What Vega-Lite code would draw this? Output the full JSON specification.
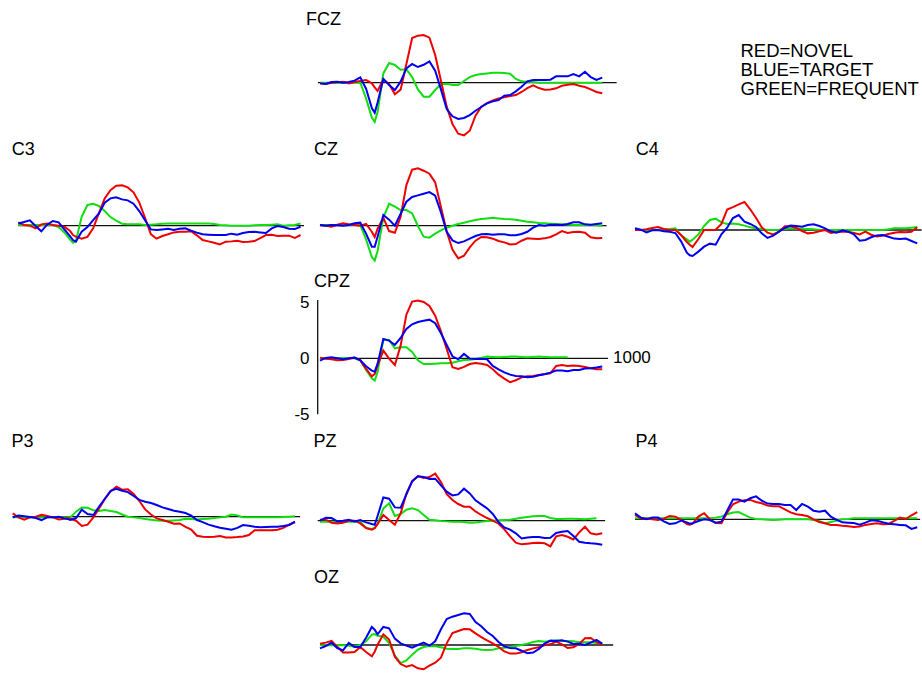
{
"$schema": "https://vega.github.io/schema/vega-lite/v6.json",
"padding": 0,
"background": "white",
"config": {"view": {"stroke": null}, "font": "Liberation Sans"},
"columns": 3,
"spacing": 0,
"bounds": "flush",
"resolve": {"scale": {"color": "independent", "x": "independent", "y": "independent"}, "legend": {"color": "independent"}, "axis": {"x": "independent", "y": "independent"}},
"datasets": {
"erp": [
{"p":"FCZ","t":0,"n":-0.06,"b":-0.06,"g":0},
{"p":"FCZ","t":20,"n":-0.12,"b":-0.12,"g":0},
{"p":"FCZ","t":40,"n":0,"b":0.06,"g":0},
{"p":"FCZ","t":60,"n":0.03,"b":0.09,"g":0},
{"p":"FCZ","t":80,"n":0.09,"b":0,"g":0},
{"p":"FCZ","t":100,"n":-0.06,"b":0.06,"g":0},
{"p":"FCZ","t":120,"n":0.06,"b":0.18,"g":0},
{"p":"FCZ","t":140,"n":0.15,"b":0.48,"g":0},
{"p":"FCZ","t":160,"n":0.24,"b":-0.54,"g":-1.4},
{"p":"FCZ","t":180,"n":-0.06,"b":-2.26,"g":-3.12},
{"p":"FCZ","t":190,"n":-0.42,"b":-2.68,"g":-3.51},
{"p":"FCZ","t":200,"n":-0.74,"b":-1.76,"g":-2.62},
{"p":"FCZ","t":220,"n":0.3,"b":0.33,"g":0.83},
{"p":"FCZ","t":240,"n":-0.12,"b":-0.21,"g":1.76},
{"p":"FCZ","t":260,"n":-1.04,"b":-0.65,"g":1.58},
{"p":"FCZ","t":280,"n":-0.62,"b":0.09,"g":1.16},
{"p":"FCZ","t":300,"n":1.67,"b":1.28,"g":1.19},
{"p":"FCZ","t":320,"n":3.99,"b":1.67,"g":0.5},
{"p":"FCZ","t":340,"n":4.2,"b":1.4,"g":-0.6},
{"p":"FCZ","t":360,"n":4.26,"b":1.6,"g":-1.25},
{"p":"FCZ","t":380,"n":4.02,"b":1.9,"g":-1.25},
{"p":"FCZ","t":400,"n":2.47,"b":1.07,"g":-0.65},
{"p":"FCZ","t":420,"n":0.18,"b":-0.6,"g":-0.12},
{"p":"FCZ","t":440,"n":-2.14,"b":-2.35,"g":-0.09},
{"p":"FCZ","t":460,"n":-3.7,"b":-3.0,"g":-0.21},
{"p":"FCZ","t":480,"n":-4.55,"b":-3.24,"g":-0.21},
{"p":"FCZ","t":500,"n":-4.7,"b":-3.15,"g":0.15},
{"p":"FCZ","t":520,"n":-4.29,"b":-2.89,"g":0.5},
{"p":"FCZ","t":540,"n":-2.95,"b":-2.5,"g":0.68},
{"p":"FCZ","t":560,"n":-2.14,"b":-2.17,"g":0.77},
{"p":"FCZ","t":580,"n":-1.82,"b":-1.85,"g":0.83},
{"p":"FCZ","t":600,"n":-1.58,"b":-1.67,"g":0.89},
{"p":"FCZ","t":620,"n":-1.4,"b":-1.55,"g":0.89},
{"p":"FCZ","t":640,"n":-1.31,"b":-1.16,"g":0.86},
{"p":"FCZ","t":660,"n":-1.19,"b":-1.1,"g":0.8},
{"p":"FCZ","t":680,"n":-1.1,"b":-0.77,"g":0.33},
{"p":"FCZ","t":700,"n":-0.83,"b":-0.36,"g":0.12},
{"p":"FCZ","t":720,"n":-0.48,"b":0.12,"g":0.09},
{"p":"FCZ","t":740,"n":-0.24,"b":0.24,"g":0.06},
{"p":"FCZ","t":760,"n":-0.48,"b":0.24,"g":0},
{"p":"FCZ","t":780,"n":-0.62,"b":0.24,"g":0},
{"p":"FCZ","t":800,"n":-0.6,"b":0.27,"g":0},
{"p":"FCZ","t":820,"n":-0.5,"b":0.57,"g":0},
{"p":"FCZ","t":840,"n":-0.27,"b":0.57,"g":0},
{"p":"FCZ","t":860,"n":-0.18,"b":0.57,"g":0},
{"p":"FCZ","t":880,"n":-0.12,"b":0.77,"g":0},
{"p":"FCZ","t":900,"n":-0.27,"b":0.57,"g":0},
{"p":"FCZ","t":920,"n":-0.39,"b":0.98,"g":0},
{"p":"FCZ","t":940,"n":-0.6,"b":0.5,"g":0},
{"p":"FCZ","t":960,"n":-0.83,"b":0.24,"g":0},
{"p":"FCZ","t":980,"n":-0.95,"b":0.45,"g":0},
{"p":"C3","t":0,"n":0.3,"b":0.2,"g":0.06},
{"p":"C3","t":20,"n":0.06,"b":0.33,"g":0.06},
{"p":"C3","t":40,"n":0,"b":0.48,"g":0.06},
{"p":"C3","t":60,"n":-0.24,"b":-0.03,"g":0.06},
{"p":"C3","t":80,"n":0.12,"b":-0.5,"g":0.06},
{"p":"C3","t":100,"n":0.2,"b":0.09,"g":0.06},
{"p":"C3","t":120,"n":0.06,"b":0.42,"g":0.06},
{"p":"C3","t":140,"n":0,"b":0.3,"g":-0.12},
{"p":"C3","t":160,"n":-0.09,"b":-0.33,"g":-0.6},
{"p":"C3","t":180,"n":-0.48,"b":-0.95,"g":-1.25},
{"p":"C3","t":190,"n":-0.83,"b":-1.28,"g":-1.52},
{"p":"C3","t":200,"n":-0.98,"b":-1.43,"g":-1.37},
{"p":"C3","t":220,"n":-1.16,"b":-0.54,"g":0.8},
{"p":"C3","t":240,"n":-1.0,"b":-0.12,"g":1.85},
{"p":"C3","t":260,"n":-0.24,"b":0.5,"g":1.96},
{"p":"C3","t":280,"n":1.13,"b":1.1,"g":1.76},
{"p":"C3","t":300,"n":2.44,"b":2.05,"g":1.31},
{"p":"C3","t":320,"n":3.18,"b":2.44,"g":0.77},
{"p":"C3","t":340,"n":3.57,"b":2.53,"g":0.45},
{"p":"C3","t":360,"n":3.6,"b":2.35,"g":0.18},
{"p":"C3","t":380,"n":3.42,"b":2.26,"g":0.12},
{"p":"C3","t":400,"n":2.98,"b":1.96,"g":0.12},
{"p":"C3","t":420,"n":2.08,"b":1.31,"g":0.12},
{"p":"C3","t":440,"n":0.71,"b":0.48,"g":0.06},
{"p":"C3","t":460,"n":-0.75,"b":-0.33,"g":0.09},
{"p":"C3","t":480,"n":-1.16,"b":-0.39,"g":0.12},
{"p":"C3","t":500,"n":-0.92,"b":-0.33,"g":0.18},
{"p":"C3","t":520,"n":-0.77,"b":-0.27,"g":0.2},
{"p":"C3","t":540,"n":-0.6,"b":-0.39,"g":0.2},
{"p":"C3","t":560,"n":-0.54,"b":-0.27,"g":0.2},
{"p":"C3","t":580,"n":-0.54,"b":-0.24,"g":0.2},
{"p":"C3","t":600,"n":-0.5,"b":-0.45,"g":0.2},
{"p":"C3","t":620,"n":-0.86,"b":-0.62,"g":0.2},
{"p":"C3","t":640,"n":-1.28,"b":-0.77,"g":0.2},
{"p":"C3","t":660,"n":-1.4,"b":-0.8,"g":0.2},
{"p":"C3","t":680,"n":-1.52,"b":-0.83,"g":0.15},
{"p":"C3","t":700,"n":-1.67,"b":-0.83,"g":0.06},
{"p":"C3","t":720,"n":-1.43,"b":-0.83,"g":0.03},
{"p":"C3","t":740,"n":-1.4,"b":-0.71,"g":0},
{"p":"C3","t":760,"n":-1.34,"b":-0.8,"g":0},
{"p":"C3","t":780,"n":-1.46,"b":-0.65,"g":0},
{"p":"C3","t":800,"n":-1.43,"b":-0.56,"g":0},
{"p":"C3","t":820,"n":-1.37,"b":-0.54,"g":0.03},
{"p":"C3","t":840,"n":-1.1,"b":-0.6,"g":0.06},
{"p":"C3","t":860,"n":-0.83,"b":-0.65,"g":0.06},
{"p":"C3","t":880,"n":-0.8,"b":-0.24,"g":0.09},
{"p":"C3","t":900,"n":-0.92,"b":-0.03,"g":0.12},
{"p":"C3","t":920,"n":-0.89,"b":-0.12,"g":0},
{"p":"C3","t":940,"n":-0.89,"b":-0.27,"g":0.03},
{"p":"C3","t":960,"n":-1.1,"b":-0.3,"g":0.06},
{"p":"C3","t":980,"n":-0.83,"b":-0.09,"g":0.2},
{"p":"CZ","t":0,"n":0.06,"b":0.06,"g":0.06},
{"p":"CZ","t":20,"n":0,"b":0,"g":0.06},
{"p":"CZ","t":40,"n":-0.09,"b":0.06,"g":0.06},
{"p":"CZ","t":60,"n":0.09,"b":0.03,"g":0.06},
{"p":"CZ","t":80,"n":0.21,"b":0,"g":0.06},
{"p":"CZ","t":100,"n":0.12,"b":0.06,"g":0.06},
{"p":"CZ","t":120,"n":0.06,"b":0.21,"g":0.06},
{"p":"CZ","t":140,"n":0,"b":0.27,"g":0.06},
{"p":"CZ","t":160,"n":0.15,"b":-0.71,"g":-1.22},
{"p":"CZ","t":180,"n":-0.54,"b":-1.88,"g":-2.8},
{"p":"CZ","t":190,"n":-1.01,"b":-1.88,"g":-3.12},
{"p":"CZ","t":200,"n":-0.27,"b":-0.98,"g":-2.26},
{"p":"CZ","t":220,"n":0.71,"b":0.95,"g":0.74},
{"p":"CZ","t":240,"n":-0.48,"b":0.54,"g":1.96},
{"p":"CZ","t":260,"n":-0.63,"b":0,"g":1.7},
{"p":"CZ","t":280,"n":0.8,"b":1.07,"g":1.4},
{"p":"CZ","t":300,"n":3.63,"b":2.14,"g":1.4},
{"p":"CZ","t":320,"n":5.0,"b":2.56,"g":1.1},
{"p":"CZ","t":340,"n":5.12,"b":2.71,"g":-0.03},
{"p":"CZ","t":360,"n":4.91,"b":2.86,"g":-0.98},
{"p":"CZ","t":380,"n":4.64,"b":3.0,"g":-1.07},
{"p":"CZ","t":400,"n":3.87,"b":2.68,"g":-0.71},
{"p":"CZ","t":420,"n":1.67,"b":1.19,"g":-0.42},
{"p":"CZ","t":440,"n":-0.54,"b":-0.54,"g":-0.18},
{"p":"CZ","t":460,"n":-2.14,"b":-1.31,"g":0},
{"p":"CZ","t":480,"n":-2.92,"b":-1.55,"g":0.15},
{"p":"CZ","t":500,"n":-2.68,"b":-1.4,"g":0.27},
{"p":"CZ","t":520,"n":-1.93,"b":-1.16,"g":0.39},
{"p":"CZ","t":540,"n":-1.34,"b":-0.92,"g":0.51},
{"p":"CZ","t":560,"n":-1.01,"b":-0.77,"g":0.6},
{"p":"CZ","t":580,"n":-1.04,"b":-0.74,"g":0.65},
{"p":"CZ","t":600,"n":-1.16,"b":-0.8,"g":0.71},
{"p":"CZ","t":620,"n":-1.37,"b":-0.77,"g":0.65},
{"p":"CZ","t":640,"n":-1.49,"b":-0.77,"g":0.6},
{"p":"CZ","t":660,"n":-1.67,"b":-0.86,"g":0.57},
{"p":"CZ","t":680,"n":-1.64,"b":-0.86,"g":0.54},
{"p":"CZ","t":700,"n":-1.34,"b":-0.74,"g":0.45},
{"p":"CZ","t":720,"n":-1.13,"b":-0.54,"g":0.36},
{"p":"CZ","t":740,"n":-1.16,"b":-0.18,"g":0.3},
{"p":"CZ","t":760,"n":-1.19,"b":0.06,"g":0.24},
{"p":"CZ","t":780,"n":-1.13,"b":0,"g":0.21},
{"p":"CZ","t":800,"n":-1.01,"b":0.09,"g":0.18},
{"p":"CZ","t":820,"n":-0.77,"b":0.09,"g":0.15},
{"p":"CZ","t":840,"n":-0.48,"b":0.06,"g":0.12},
{"p":"CZ","t":860,"n":-0.65,"b":0.15,"g":0.09},
{"p":"CZ","t":880,"n":-0.57,"b":0.3,"g":0.06},
{"p":"CZ","t":900,"n":-0.54,"b":0.3,"g":0.06},
{"p":"CZ","t":920,"n":-0.63,"b":0.12,"g":0.06},
{"p":"CZ","t":940,"n":-1.04,"b":0.09,"g":0.06},
{"p":"CZ","t":960,"n":-1.13,"b":0.15,"g":0.03},
{"p":"CZ","t":980,"n":-1.1,"b":0.21,"g":0},
{"p":"C4","t":0,"n":0,"b":0.15,"g":0},
{"p":"C4","t":20,"n":0,"b":0.03,"g":0},
{"p":"C4","t":40,"n":0.06,"b":-0.21,"g":0},
{"p":"C4","t":60,"n":0.18,"b":-0.03,"g":0},
{"p":"C4","t":80,"n":0.27,"b":0,"g":0},
{"p":"C4","t":100,"n":0.09,"b":-0.12,"g":0.06},
{"p":"C4","t":120,"n":0,"b":-0.15,"g":0.09},
{"p":"C4","t":140,"n":0,"b":-0.27,"g":0.15},
{"p":"C4","t":160,"n":-0.45,"b":-1.01,"g":-0.48},
{"p":"C4","t":180,"n":-1.07,"b":-2.02,"g":-0.83},
{"p":"C4","t":190,"n":-1.31,"b":-2.26,"g":-1.04},
{"p":"C4","t":200,"n":-1.52,"b":-2.32,"g":-0.86},
{"p":"C4","t":220,"n":-0.8,"b":-1.93,"g":-0.39},
{"p":"C4","t":240,"n":0,"b":-1.49,"g":0.36},
{"p":"C4","t":260,"n":0,"b":-1.22,"g":0.89},
{"p":"C4","t":280,"n":0.03,"b":-1.31,"g":1.01},
{"p":"C4","t":300,"n":0.54,"b":-0.39,"g":0.68},
{"p":"C4","t":320,"n":1.82,"b":0.21,"g":0.54},
{"p":"C4","t":340,"n":2.05,"b":1.07,"g":0.57},
{"p":"C4","t":360,"n":2.29,"b":1.34,"g":0.51},
{"p":"C4","t":380,"n":2.5,"b":0.74,"g":0.39},
{"p":"C4","t":400,"n":1.85,"b":0.54,"g":0.24},
{"p":"C4","t":420,"n":1.1,"b":0.27,"g":0.15},
{"p":"C4","t":440,"n":0.24,"b":-0.3,"g":0.09},
{"p":"C4","t":460,"n":-0.24,"b":-0.71,"g":0},
{"p":"C4","t":480,"n":-0.39,"b":-0.51,"g":0},
{"p":"C4","t":500,"n":-0.15,"b":-0.15,"g":0.03},
{"p":"C4","t":520,"n":0.33,"b":0.18,"g":0.09},
{"p":"C4","t":540,"n":0.33,"b":0.39,"g":0.15},
{"p":"C4","t":560,"n":0.18,"b":0.36,"g":0.12},
{"p":"C4","t":580,"n":-0.09,"b":0.3,"g":0.12},
{"p":"C4","t":600,"n":-0.3,"b":0.45,"g":0.09},
{"p":"C4","t":620,"n":-0.24,"b":0.51,"g":0.06},
{"p":"C4","t":640,"n":-0.12,"b":0.36,"g":0},
{"p":"C4","t":660,"n":0,"b":0.15,"g":0},
{"p":"C4","t":680,"n":-0.27,"b":-0.12,"g":0},
{"p":"C4","t":700,"n":-0.18,"b":-0.24,"g":0},
{"p":"C4","t":720,"n":-0.15,"b":-0.03,"g":0},
{"p":"C4","t":740,"n":-0.15,"b":-0.15,"g":0},
{"p":"C4","t":760,"n":-0.27,"b":-0.39,"g":0},
{"p":"C4","t":780,"n":-0.39,"b":-0.95,"g":0},
{"p":"C4","t":800,"n":-0.15,"b":-0.89,"g":0},
{"p":"C4","t":820,"n":-0.42,"b":-0.65,"g":0},
{"p":"C4","t":840,"n":-0.57,"b":-0.48,"g":0},
{"p":"C4","t":860,"n":-0.5,"b":-0.45,"g":0},
{"p":"C4","t":880,"n":-0.36,"b":-0.6,"g":0.06},
{"p":"C4","t":900,"n":-0.24,"b":-0.77,"g":0.15},
{"p":"C4","t":920,"n":-0.18,"b":-0.8,"g":0.15},
{"p":"C4","t":940,"n":-0.21,"b":-0.77,"g":0.15},
{"p":"C4","t":960,"n":-0.15,"b":-0.98,"g":0.21},
{"p":"C4","t":980,"n":0.24,"b":-1.19,"g":0.27},
{"p":"CPZ","t":0,"n":0.06,"b":-0.21,"g":0},
{"p":"CPZ","t":20,"n":-0.03,"b":0.03,"g":0},
{"p":"CPZ","t":40,"n":-0.09,"b":0.09,"g":0},
{"p":"CPZ","t":60,"n":-0.18,"b":0,"g":0},
{"p":"CPZ","t":80,"n":-0.15,"b":-0.09,"g":0},
{"p":"CPZ","t":100,"n":-0.06,"b":0,"g":0},
{"p":"CPZ","t":120,"n":0.06,"b":0.06,"g":0},
{"p":"CPZ","t":140,"n":-0.18,"b":-0.18,"g":-0.18},
{"p":"CPZ","t":160,"n":-0.95,"b":-0.71,"g":-1.04},
{"p":"CPZ","t":180,"n":-1.61,"b":-1.1,"g":-1.79},
{"p":"CPZ","t":190,"n":-1.4,"b":-1.19,"g":-1.99},
{"p":"CPZ","t":200,"n":-0.63,"b":-0.48,"g":-1.22},
{"p":"CPZ","t":220,"n":0.68,"b":1.73,"g":1.67},
{"p":"CPZ","t":240,"n":-0.03,"b":1.58,"g":1.64},
{"p":"CPZ","t":260,"n":-0.6,"b":1.19,"g":0.89},
{"p":"CPZ","t":280,"n":1.13,"b":1.82,"g":0.98},
{"p":"CPZ","t":300,"n":3.9,"b":2.62,"g":0.98},
{"p":"CPZ","t":320,"n":5.06,"b":3.04,"g":0.57},
{"p":"CPZ","t":340,"n":5.15,"b":3.24,"g":-0.18},
{"p":"CPZ","t":360,"n":5.03,"b":3.36,"g":-0.51},
{"p":"CPZ","t":380,"n":4.67,"b":3.45,"g":-0.51},
{"p":"CPZ","t":400,"n":3.81,"b":3.13,"g":-0.48},
{"p":"CPZ","t":420,"n":2.41,"b":2.23,"g":-0.45},
{"p":"CPZ","t":440,"n":0.83,"b":1.19,"g":-0.45},
{"p":"CPZ","t":460,"n":-0.8,"b":0.18,"g":-0.39},
{"p":"CPZ","t":480,"n":-0.95,"b":-0.09,"g":-0.27},
{"p":"CPZ","t":500,"n":-0.77,"b":0.39,"g":-0.15},
{"p":"CPZ","t":520,"n":-0.51,"b":-0.03,"g":-0.12},
{"p":"CPZ","t":540,"n":-0.42,"b":-0.06,"g":-0.06},
{"p":"CPZ","t":560,"n":-0.48,"b":-0.03,"g":0.03},
{"p":"CPZ","t":580,"n":-0.6,"b":-0.09,"g":0.15},
{"p":"CPZ","t":600,"n":-0.98,"b":-0.68,"g":0.12},
{"p":"CPZ","t":620,"n":-1.46,"b":-0.98,"g":0.09},
{"p":"CPZ","t":640,"n":-1.82,"b":-1.25,"g":0.12},
{"p":"CPZ","t":660,"n":-2.14,"b":-1.46,"g":0.15},
{"p":"CPZ","t":680,"n":-1.96,"b":-1.58,"g":0.15},
{"p":"CPZ","t":700,"n":-1.7,"b":-1.61,"g":0.12},
{"p":"CPZ","t":720,"n":-1.61,"b":-1.7,"g":0.09},
{"p":"CPZ","t":740,"n":-1.58,"b":-1.64,"g":0.12},
{"p":"CPZ","t":760,"n":-1.49,"b":-1.52,"g":0.15},
{"p":"CPZ","t":780,"n":-1.4,"b":-1.43,"g":0.12},
{"p":"CPZ","t":800,"n":-1.34,"b":-1.28,"g":0.09},
{"p":"CPZ","t":820,"n":-0.68,"b":-1.1,"g":0.09},
{"p":"CPZ","t":840,"n":-0.6,"b":-1.1,"g":0.09},
{"p":"CPZ","t":860,"n":-0.68,"b":-1.16,"g":0.09},
{"p":"CPZ","t":880,"n":-0.65,"b":-1.04,"g":null},
{"p":"CPZ","t":900,"n":-0.68,"b":-1.04,"g":null},
{"p":"CPZ","t":920,"n":-0.77,"b":-0.92,"g":null},
{"p":"CPZ","t":940,"n":-0.89,"b":-0.89,"g":null},
{"p":"CPZ","t":960,"n":-0.98,"b":-0.83,"g":null},
{"p":"CPZ","t":980,"n":-0.98,"b":-0.74,"g":null},
{"p":"P3","t":0,"n":0.3,"b":-0.06,"g":-0.06},
{"p":"P3","t":20,"n":-0.06,"b":0.1,"g":-0.06},
{"p":"P3","t":40,"n":-0.27,"b":0.03,"g":-0.06},
{"p":"P3","t":60,"n":-0.06,"b":-0.03,"g":-0.06},
{"p":"P3","t":80,"n":0,"b":-0.12,"g":-0.06},
{"p":"P3","t":100,"n":0.18,"b":-0.3,"g":-0.06},
{"p":"P3","t":120,"n":0.06,"b":-0.06,"g":-0.06},
{"p":"P3","t":140,"n":-0.06,"b":-0.06,"g":-0.06},
{"p":"P3","t":160,"n":-0.24,"b":0,"g":-0.06},
{"p":"P3","t":180,"n":-0.18,"b":-0.15,"g":-0.06},
{"p":"P3","t":190,"n":-0.15,"b":-0.2,"g":-0.06},
{"p":"P3","t":200,"n":-0.18,"b":-0.3,"g":-0.06},
{"p":"P3","t":220,"n":-0.36,"b":-0.12,"g":0.45},
{"p":"P3","t":240,"n":-0.83,"b":0.63,"g":0.83},
{"p":"P3","t":260,"n":-0.71,"b":0.24,"g":0.8},
{"p":"P3","t":280,"n":-0.06,"b":0.15,"g":0.57},
{"p":"P3","t":300,"n":0.74,"b":0.9,"g":0.5},
{"p":"P3","t":320,"n":1.58,"b":1.6,"g":0.6},
{"p":"P3","t":340,"n":2.26,"b":2.3,"g":0.5},
{"p":"P3","t":360,"n":2.68,"b":2.5,"g":0.42},
{"p":"P3","t":380,"n":2.41,"b":2.32,"g":0.2},
{"p":"P3","t":400,"n":2.44,"b":2.2,"g":0},
{"p":"P3","t":420,"n":2.02,"b":1.85,"g":-0.06},
{"p":"P3","t":440,"n":1.4,"b":1.5,"g":-0.12},
{"p":"P3","t":460,"n":0.65,"b":1.34,"g":-0.2},
{"p":"P3","t":480,"n":0.2,"b":1.22,"g":-0.27},
{"p":"P3","t":500,"n":-0.15,"b":1.04,"g":-0.33},
{"p":"P3","t":520,"n":-0.3,"b":0.83,"g":-0.36},
{"p":"P3","t":540,"n":-0.45,"b":0.68,"g":-0.36},
{"p":"P3","t":560,"n":-0.63,"b":0.54,"g":-0.33},
{"p":"P3","t":580,"n":-0.6,"b":0.45,"g":-0.3},
{"p":"P3","t":600,"n":-0.9,"b":0.33,"g":-0.18},
{"p":"P3","t":620,"n":-1.16,"b":0.09,"g":-0.2},
{"p":"P3","t":640,"n":-1.7,"b":-0.3,"g":-0.24},
{"p":"P3","t":660,"n":-1.8,"b":-0.48,"g":-0.2},
{"p":"P3","t":680,"n":-1.82,"b":-0.71,"g":-0.18},
{"p":"P3","t":700,"n":-1.8,"b":-0.86,"g":-0.12},
{"p":"P3","t":720,"n":-1.73,"b":-0.98,"g":-0.06},
{"p":"P3","t":740,"n":-1.85,"b":-1.07,"g":0},
{"p":"P3","t":760,"n":-1.85,"b":-1.16,"g":0.2},
{"p":"P3","t":780,"n":-1.82,"b":-1.0,"g":0.12},
{"p":"P3","t":800,"n":-1.76,"b":-0.74,"g":-0.06},
{"p":"P3","t":820,"n":-1.64,"b":-0.8,"g":-0.06},
{"p":"P3","t":840,"n":-1.2,"b":-0.89,"g":-0.06},
{"p":"P3","t":860,"n":-1.2,"b":-0.95,"g":-0.06},
{"p":"P3","t":880,"n":-1.2,"b":-0.92,"g":-0.06},
{"p":"P3","t":900,"n":-1.2,"b":-0.89,"g":-0.06},
{"p":"P3","t":920,"n":-1.16,"b":-0.89,"g":-0.06},
{"p":"P3","t":940,"n":-1.0,"b":-0.83,"g":-0.03},
{"p":"P3","t":960,"n":-0.7,"b":-0.74,"g":0},
{"p":"P3","t":980,"n":-0.5,"b":-0.45,"g":0.03},
{"p":"PZ","t":0,"n":0.09,"b":0,"g":-0.09},
{"p":"PZ","t":20,"n":0.09,"b":0.27,"g":-0.09},
{"p":"PZ","t":40,"n":-0.18,"b":0.24,"g":-0.09},
{"p":"PZ","t":60,"n":-0.24,"b":-0.06,"g":-0.09},
{"p":"PZ","t":80,"n":-0.18,"b":0,"g":-0.09},
{"p":"PZ","t":100,"n":0,"b":0.09,"g":-0.09},
{"p":"PZ","t":120,"n":0,"b":-0.06,"g":-0.09},
{"p":"PZ","t":140,"n":-0.24,"b":0.06,"g":-0.09},
{"p":"PZ","t":160,"n":-0.65,"b":-0.15,"g":-0.65},
{"p":"PZ","t":180,"n":-0.8,"b":-0.3,"g":-0.74},
{"p":"PZ","t":190,"n":-0.68,"b":-0.36,"g":-0.63},
{"p":"PZ","t":200,"n":-0.3,"b":0.42,"g":-0.3},
{"p":"PZ","t":220,"n":0.51,"b":2.08,"g":1.1},
{"p":"PZ","t":240,"n":0.06,"b":1.96,"g":1.55},
{"p":"PZ","t":260,"n":-0.36,"b":1.19,"g":0.42},
{"p":"PZ","t":280,"n":0.65,"b":1.16,"g":0.6},
{"p":"PZ","t":300,"n":2.41,"b":2.35,"g":0.98},
{"p":"PZ","t":320,"n":3.54,"b":3.51,"g":1.1},
{"p":"PZ","t":340,"n":3.99,"b":3.96,"g":0.95},
{"p":"PZ","t":360,"n":3.81,"b":3.9,"g":0.51},
{"p":"PZ","t":380,"n":3.9,"b":3.72,"g":0.09},
{"p":"PZ","t":400,"n":4.2,"b":3.75,"g":0.03},
{"p":"PZ","t":420,"n":3.45,"b":3.15,"g":-0.03},
{"p":"PZ","t":440,"n":2.38,"b":2.59,"g":-0.06},
{"p":"PZ","t":460,"n":1.85,"b":2.26,"g":-0.09},
{"p":"PZ","t":480,"n":1.49,"b":2.35,"g":-0.09},
{"p":"PZ","t":500,"n":1.25,"b":2.86,"g":-0.12},
{"p":"PZ","t":520,"n":1.25,"b":2.44,"g":-0.18},
{"p":"PZ","t":540,"n":0.83,"b":1.82,"g":-0.15},
{"p":"PZ","t":560,"n":0.51,"b":1.46,"g":-0.09},
{"p":"PZ","t":580,"n":0.24,"b":1.1,"g":-0.03},
{"p":"PZ","t":600,"n":0,"b":0.6,"g":0},
{"p":"PZ","t":620,"n":-0.27,"b":-0.12,"g":0.03},
{"p":"PZ","t":640,"n":-0.77,"b":-0.6,"g":0.06},
{"p":"PZ","t":660,"n":-1.4,"b":-0.8,"g":0.09},
{"p":"PZ","t":680,"n":-1.96,"b":-1.13,"g":0.18},
{"p":"PZ","t":700,"n":-2.11,"b":-1.58,"g":0.27},
{"p":"PZ","t":720,"n":-2.05,"b":-1.49,"g":0.33},
{"p":"PZ","t":740,"n":-1.99,"b":-1.46,"g":0.39},
{"p":"PZ","t":760,"n":-1.96,"b":-1.46,"g":0.42},
{"p":"PZ","t":780,"n":-2.02,"b":-1.55,"g":0.42},
{"p":"PZ","t":800,"n":-2.29,"b":-1.52,"g":0.24},
{"p":"PZ","t":820,"n":-1.4,"b":-1.1,"g":0.15},
{"p":"PZ","t":840,"n":-1.28,"b":-0.98,"g":0.15},
{"p":"PZ","t":860,"n":-1.43,"b":-0.92,"g":0.18},
{"p":"PZ","t":880,"n":-1.67,"b":-1.37,"g":0.18},
{"p":"PZ","t":900,"n":-1.04,"b":-1.88,"g":0.15},
{"p":"PZ","t":920,"n":-0.54,"b":-1.96,"g":0.12},
{"p":"PZ","t":940,"n":-1.13,"b":-2.02,"g":0.18},
{"p":"PZ","t":960,"n":-1.22,"b":-2.05,"g":0.21},
{"p":"PZ","t":980,"n":-1.13,"b":-2.14,"g":null},
{"p":"P4","t":0,"n":0.39,"b":0.54,"g":0.09},
{"p":"P4","t":20,"n":0.09,"b":0.15,"g":0.09},
{"p":"P4","t":40,"n":0.06,"b":0,"g":0.09},
{"p":"P4","t":60,"n":0,"b":0.15,"g":0.09},
{"p":"P4","t":80,"n":-0.06,"b":0.15,"g":0.09},
{"p":"P4","t":100,"n":0.06,"b":-0.18,"g":0.09},
{"p":"P4","t":120,"n":0.3,"b":-0.42,"g":0.09},
{"p":"P4","t":140,"n":0.24,"b":-0.36,"g":0.09},
{"p":"P4","t":160,"n":-0.03,"b":-0.12,"g":0.09},
{"p":"P4","t":180,"n":-0.42,"b":-0.27,"g":0.09},
{"p":"P4","t":190,"n":-0.48,"b":-0.39,"g":0.09},
{"p":"P4","t":200,"n":-0.39,"b":-0.36,"g":0.09},
{"p":"P4","t":220,"n":0.24,"b":-0.15,"g":0.09},
{"p":"P4","t":240,"n":0.54,"b":0,"g":0.09},
{"p":"P4","t":260,"n":0,"b":-0.06,"g":0.09},
{"p":"P4","t":280,"n":-0.33,"b":-0.3,"g":0.15},
{"p":"P4","t":300,"n":-0.36,"b":-0.21,"g":0.24},
{"p":"P4","t":320,"n":0.6,"b":0.77,"g":0.45},
{"p":"P4","t":340,"n":1.34,"b":1.76,"g":0.6},
{"p":"P4","t":360,"n":1.58,"b":1.76,"g":0.65},
{"p":"P4","t":380,"n":1.7,"b":1.58,"g":0.39},
{"p":"P4","t":400,"n":1.73,"b":1.88,"g":0.15},
{"p":"P4","t":420,"n":1.55,"b":2.05,"g":0.03},
{"p":"P4","t":440,"n":1.43,"b":1.67,"g":0},
{"p":"P4","t":460,"n":1.22,"b":1.4,"g":-0.03},
{"p":"P4","t":480,"n":1.16,"b":1.37,"g":-0.06},
{"p":"P4","t":500,"n":1.16,"b":1.37,"g":-0.03},
{"p":"P4","t":520,"n":0.89,"b":1.28,"g":0},
{"p":"P4","t":540,"n":0.62,"b":1.28,"g":0},
{"p":"P4","t":560,"n":0.45,"b":0.83,"g":0},
{"p":"P4","t":580,"n":0.39,"b":1.37,"g":0},
{"p":"P4","t":600,"n":0.27,"b":1.13,"g":0},
{"p":"P4","t":620,"n":0,"b":0.77,"g":-0.06},
{"p":"P4","t":640,"n":-0.24,"b":0.68,"g":-0.15},
{"p":"P4","t":660,"n":-0.36,"b":0.77,"g":-0.36},
{"p":"P4","t":680,"n":-0.5,"b":0.24,"g":-0.24},
{"p":"P4","t":700,"n":-0.5,"b":-0.06,"g":-0.12},
{"p":"P4","t":720,"n":-0.57,"b":-0.27,"g":0},
{"p":"P4","t":740,"n":-0.62,"b":-0.3,"g":0.03},
{"p":"P4","t":760,"n":-0.68,"b":-0.33,"g":0.09},
{"p":"P4","t":780,"n":-0.65,"b":-0.48,"g":0.09},
{"p":"P4","t":800,"n":-0.5,"b":-0.3,"g":0.09},
{"p":"P4","t":820,"n":-0.42,"b":-0.09,"g":0.09},
{"p":"P4","t":840,"n":-0.36,"b":-0.12,"g":0.09},
{"p":"P4","t":860,"n":-0.45,"b":-0.27,"g":0.09},
{"p":"P4","t":880,"n":-0.42,"b":-0.39,"g":0.09},
{"p":"P4","t":900,"n":-0.15,"b":-0.45,"g":0.09},
{"p":"P4","t":920,"n":0.15,"b":-0.5,"g":0.09},
{"p":"P4","t":940,"n":0.03,"b":-0.54,"g":0.09},
{"p":"P4","t":960,"n":0.36,"b":-0.86,"g":0.09},
{"p":"P4","t":980,"n":0.65,"b":-0.71,"g":0.09},
{"p":"OZ","t":0,"n":0.12,"b":-0.3,"g":0},
{"p":"OZ","t":20,"n":0.21,"b":-0.09,"g":-0.03},
{"p":"OZ","t":40,"n":0.36,"b":0.21,"g":-0.03},
{"p":"OZ","t":60,"n":-0.15,"b":-0.27,"g":0},
{"p":"OZ","t":80,"n":-0.68,"b":-0.48,"g":-0.03},
{"p":"OZ","t":100,"n":-0.68,"b":0.18,"g":-0.06},
{"p":"OZ","t":120,"n":-0.62,"b":-0.18,"g":-0.15},
{"p":"OZ","t":140,"n":-0.18,"b":-0.18,"g":0},
{"p":"OZ","t":160,"n":-0.62,"b":0.65,"g":0.33},
{"p":"OZ","t":180,"n":-1.01,"b":1.61,"g":0.92},
{"p":"OZ","t":190,"n":-0.6,"b":1.37,"g":0.98},
{"p":"OZ","t":200,"n":0.03,"b":0.95,"g":0.83},
{"p":"OZ","t":220,"n":0.95,"b":1.61,"g":0.74},
{"p":"OZ","t":240,"n":0.48,"b":1.49,"g":0.18},
{"p":"OZ","t":260,"n":-1.04,"b":0.57,"g":-0.95},
{"p":"OZ","t":280,"n":-1.7,"b":0.15,"g":-1.61},
{"p":"OZ","t":300,"n":-1.93,"b":-0.06,"g":-1.37},
{"p":"OZ","t":320,"n":-1.79,"b":-0.24,"g":-0.86},
{"p":"OZ","t":340,"n":-2.08,"b":0,"g":-0.42},
{"p":"OZ","t":360,"n":-2.17,"b":0.21,"g":-0.18},
{"p":"OZ","t":380,"n":-1.85,"b":-0.06,"g":-0.09},
{"p":"OZ","t":400,"n":-1.58,"b":0.33,"g":-0.12},
{"p":"OZ","t":420,"n":-1.13,"b":1.4,"g":-0.21},
{"p":"OZ","t":440,"n":0.15,"b":2.32,"g":-0.33},
{"p":"OZ","t":460,"n":1.07,"b":2.53,"g":-0.36},
{"p":"OZ","t":480,"n":1.25,"b":2.68,"g":-0.36},
{"p":"OZ","t":500,"n":1.43,"b":2.83,"g":-0.3},
{"p":"OZ","t":520,"n":1.4,"b":2.77,"g":-0.3},
{"p":"OZ","t":540,"n":1.04,"b":2.05,"g":-0.33},
{"p":"OZ","t":560,"n":0.71,"b":1.67,"g":-0.42},
{"p":"OZ","t":580,"n":0.42,"b":1.16,"g":-0.45},
{"p":"OZ","t":600,"n":0.15,"b":0.8,"g":-0.42},
{"p":"OZ","t":620,"n":-0.18,"b":0.27,"g":-0.3},
{"p":"OZ","t":640,"n":-0.57,"b":-0.12,"g":-0.24},
{"p":"OZ","t":660,"n":-0.77,"b":-0.27,"g":-0.18},
{"p":"OZ","t":680,"n":-0.77,"b":-0.3,"g":-0.09},
{"p":"OZ","t":700,"n":-0.65,"b":-0.51,"g":0},
{"p":"OZ","t":720,"n":-0.45,"b":-0.74,"g":0.12},
{"p":"OZ","t":740,"n":-0.3,"b":-0.68,"g":0.27},
{"p":"OZ","t":760,"n":-0.21,"b":-0.36,"g":0.36},
{"p":"OZ","t":780,"n":0,"b":0.12,"g":0.3},
{"p":"OZ","t":800,"n":0.06,"b":0.39,"g":0.36},
{"p":"OZ","t":820,"n":0.3,"b":0.36,"g":0.42},
{"p":"OZ","t":840,"n":0.06,"b":0.42,"g":0.36},
{"p":"OZ","t":860,"n":-0.27,"b":0.3,"g":0.36},
{"p":"OZ","t":880,"n":-0.21,"b":0.09,"g":0.33},
{"p":"OZ","t":900,"n":0.09,"b":0.12,"g":0.24},
{"p":"OZ","t":920,"n":0.6,"b":0,"g":0.24},
{"p":"OZ","t":940,"n":0.63,"b":0.21,"g":0.24},
{"p":"OZ","t":960,"n":0.27,"b":0.45,"g":0.18},
{"p":"OZ","t":980,"n":0,"b":0.12,"g":0.09}
]
},
"concat": [
{"width":318,"height":135,"data":{"values":[{}]},"mark":{"type":"point","opacity":0,"size":0}},
{"width":316,"height":135,"data":{"name":"erp"},"layer":[
 {"data":{"values":[{}]},"mark":{"type":"rule","color":"#111","strokeWidth":1.3},"encoding":{"x":{"datum":-7,"type":"quantitative","scale":{"domain":[-6.9,1090.3],"nice":false,"zero":false},"axis":null},"x2":{"datum":1030},"y":{"datum":0,"type":"quantitative","scale":{"domain":[-4.67,7.384],"nice":false,"zero":false},"axis":null}}},
 {"transform":[{"filter":"datum.p==='FCZ'"},{"fold":["g","n","b"],"as":["c","v"]}],"mark":{"type":"line","strokeWidth":2},"encoding":{"x":{"field":"t","type":"quantitative","scale":{"domain":[-6.9,1090.3],"nice":false,"zero":false},"axis":null},"y":{"field":"v","type":"quantitative","scale":{"domain":[-4.67,7.384],"nice":false,"zero":false},"axis":null},"color":{"field":"c","type":"nominal","scale":{"domain":["n","b","g"],"range":["#ee0000","#0000ee","#11dd11"]},"legend":{"orient":"none","legendX":404,"legendY":42,"title":null,"symbolSize":0,"symbolStrokeWidth":0,"symbolOpacity":0,"labelOffset":0,"rowPadding":0,"padding":0,"labelFontSize":18.5,"labelFont":"Liberation Sans","labelColor":"#000","labelLimit":0,"labelExpr":"datum.label==='n'?'RED=NOVEL':datum.label==='b'?'BLUE=TARGET':'GREEN=FREQUENT'"}}}},
 {"data":{"values":[{}]},"mark":{"type":"text","text":"FCZ","align":"left","baseline":"alphabetic","fontSize":18,"font":"Liberation Sans","color":"#000"},"encoding":{"x":{"datum":-48.6,"type":"quantitative","scale":{"domain":[-6.9,1090.3],"nice":false,"zero":false},"axis":null},"y":{"datum":5.15,"type":"quantitative","scale":{"domain":[-4.67,7.384],"nice":false,"zero":false},"axis":null}}}
]},
{"width":288,"height":135,"data":{"values":[{}]},"mark":{"type":"point","opacity":0,"size":0}},
{"width":318,"height":133,"data":{"name":"erp"},"layer":[
 {"data":{"values":[{}]},"mark":{"type":"rule","color":"#111","strokeWidth":1.3},"encoding":{"x":{"datum":0,"type":"quantitative","scale":{"domain":[-63.5,1040.6],"nice":false,"zero":false},"axis":null},"x2":{"datum":992},"y":{"datum":0,"type":"quantitative","scale":{"domain":[-3.777,8.098],"nice":false,"zero":false},"axis":null}}},
 {"transform":[{"filter":"datum.p==='C3'"},{"fold":["g","n","b"],"as":["c","v"]}],"mark":{"type":"line","strokeWidth":2},"encoding":{"x":{"field":"t","type":"quantitative","scale":{"domain":[-63.5,1040.6],"nice":false,"zero":false},"axis":null},"y":{"field":"v","type":"quantitative","scale":{"domain":[-3.777,8.098],"nice":false,"zero":false},"axis":null},"color":{"field":"c","type":"nominal","scale":{"domain":["n","b","g"],"range":["#ee0000","#0000ee","#11dd11"]},"legend":null}}},
 {"data":{"values":[{}]},"mark":{"type":"text","text":"C3","align":"left","baseline":"alphabetic","fontSize":18,"font":"Liberation Sans","color":"#000"},"encoding":{"x":{"datum":-22.9,"type":"quantitative","scale":{"domain":[-63.5,1040.6],"nice":false,"zero":false},"axis":null},"y":{"datum":6.31,"type":"quantitative","scale":{"domain":[-3.777,8.098],"nice":false,"zero":false},"axis":null}}}
]},
{"width":316,"height":133,"data":{"name":"erp"},"layer":[
 {"data":{"values":[{}]},"mark":{"type":"rule","color":"#111","strokeWidth":1.3},"encoding":{"x":{"datum":0,"type":"quantitative","scale":{"domain":[-6.9,1090.3],"nice":false,"zero":false},"axis":null},"x2":{"datum":995},"y":{"datum":0,"type":"quantitative","scale":{"domain":[-3.777,8.098],"nice":false,"zero":false},"axis":null}}},
 {"transform":[{"filter":"datum.p==='CZ'"},{"fold":["g","n","b"],"as":["c","v"]}],"mark":{"type":"line","strokeWidth":2},"encoding":{"x":{"field":"t","type":"quantitative","scale":{"domain":[-6.9,1090.3],"nice":false,"zero":false},"axis":null},"y":{"field":"v","type":"quantitative","scale":{"domain":[-3.777,8.098],"nice":false,"zero":false},"axis":null},"color":{"field":"c","type":"nominal","scale":{"domain":["n","b","g"],"range":["#ee0000","#0000ee","#11dd11"]},"legend":null}}},
 {"data":{"values":[{}]},"mark":{"type":"text","text":"CZ","align":"left","baseline":"alphabetic","fontSize":18,"font":"Liberation Sans","color":"#000"},"encoding":{"x":{"datum":-20.8,"type":"quantitative","scale":{"domain":[-6.9,1090.3],"nice":false,"zero":false},"axis":null},"y":{"datum":6.31,"type":"quantitative","scale":{"domain":[-3.777,8.098],"nice":false,"zero":false},"axis":null}}}
]},
{"width":288,"height":133,"data":{"name":"erp"},"layer":[
 {"data":{"values":[{}]},"mark":{"type":"rule","color":"#111","strokeWidth":1.3},"encoding":{"x":{"datum":0,"type":"quantitative","scale":{"domain":[-3.5,996.5],"nice":false,"zero":false},"axis":null},"x2":{"datum":995},"y":{"datum":0,"type":"quantitative","scale":{"domain":[-3.393,8.482],"nice":false,"zero":false},"axis":null}}},
 {"transform":[{"filter":"datum.p==='C4'"},{"fold":["g","n","b"],"as":["c","v"]}],"mark":{"type":"line","strokeWidth":2},"encoding":{"x":{"field":"t","type":"quantitative","scale":{"domain":[-3.5,996.5],"nice":false,"zero":false},"axis":null},"y":{"field":"v","type":"quantitative","scale":{"domain":[-3.393,8.482],"nice":false,"zero":false},"axis":null},"color":{"field":"c","type":"nominal","scale":{"domain":["n","b","g"],"range":["#ee0000","#0000ee","#11dd11"]},"legend":null}}},
 {"data":{"values":[{}]},"mark":{"type":"text","text":"C4","align":"left","baseline":"alphabetic","fontSize":18,"font":"Liberation Sans","color":"#000"},"encoding":{"x":{"datum":2.4,"type":"quantitative","scale":{"domain":[-3.5,996.5],"nice":false,"zero":false},"axis":null},"y":{"datum":6.7,"type":"quantitative","scale":{"domain":[-3.393,8.482],"nice":false,"zero":false},"axis":null}}}
]},
{"width":318,"height":160,"data":{"values":[{}]},"mark":{"type":"point","opacity":0,"size":0}},
{"width":316,"height":160,"data":{"name":"erp"},"layer":[
 {"data":{"values":[{}]},"mark":{"type":"rule","color":"#111","strokeWidth":1.3},"encoding":{"x":{"datum":0,"type":"quantitative","scale":{"domain":[-6.9,1090.3],"nice":false,"zero":false},"axis":null},"x2":{"datum":1000},"y":{"datum":0,"type":"quantitative","scale":{"domain":[-6.223,8.063],"nice":false,"zero":false},"axis":{"values":[-5,0,5],"domain":false,"ticks":false,"tickSize":0,"grid":false,"labelPadding":9,"labelFontSize":17,"labelFont":"Liberation Sans","labelColor":"#000","labelExpr":"''+datum.value","title":null}}}},
 {"data":{"values":[{}]},"mark":{"type":"rule","color":"#111","strokeWidth":1.3},"encoding":{"x":{"datum":-8,"type":"quantitative","scale":{"domain":[-6.9,1090.3],"nice":false,"zero":false},"axis":null},"y":{"datum":-5,"type":"quantitative","scale":{"domain":[-6.223,8.063],"nice":false,"zero":false},"axis":{"values":[-5,0,5],"domain":false,"ticks":false,"tickSize":0,"grid":false,"labelPadding":9,"labelFontSize":17,"labelFont":"Liberation Sans","labelColor":"#000","labelExpr":"''+datum.value","title":null}},"y2":{"datum":5.2}}},
 {"transform":[{"filter":"datum.p==='CPZ'"},{"fold":["g","n","b"],"as":["c","v"]}],"mark":{"type":"line","strokeWidth":2},"encoding":{"x":{"field":"t","type":"quantitative","scale":{"domain":[-6.9,1090.3],"nice":false,"zero":false},"axis":null},"y":{"field":"v","type":"quantitative","scale":{"domain":[-6.223,8.063],"nice":false,"zero":false},"axis":{"values":[-5,0,5],"domain":false,"ticks":false,"tickSize":0,"grid":false,"labelPadding":9,"labelFontSize":17,"labelFont":"Liberation Sans","labelColor":"#000","labelExpr":"''+datum.value","title":null}},"color":{"field":"c","type":"nominal","scale":{"domain":["n","b","g"],"range":["#ee0000","#0000ee","#11dd11"]},"legend":null}}},
 {"data":{"values":[{}]},"mark":{"type":"text","text":"1000","align":"left","baseline":"middle","dx":5,"fontSize":17,"font":"Liberation Sans","color":"#000"},"encoding":{"x":{"datum":1000,"type":"quantitative","scale":{"domain":[-6.9,1090.3],"nice":false,"zero":false},"axis":null},"y":{"datum":0,"type":"quantitative","scale":{"domain":[-6.223,8.063],"nice":false,"zero":false},"axis":{"values":[-5,0,5],"domain":false,"ticks":false,"tickSize":0,"grid":false,"labelPadding":9,"labelFontSize":17,"labelFont":"Liberation Sans","labelColor":"#000","labelExpr":"''+datum.value","title":null}}}},
 {"data":{"values":[{}]},"mark":{"type":"text","text":"CPZ","align":"left","baseline":"alphabetic","fontSize":18,"font":"Liberation Sans","color":"#000"},"encoding":{"x":{"datum":-20.8,"type":"quantitative","scale":{"domain":[-6.9,1090.3],"nice":false,"zero":false},"axis":null},"y":{"datum":6.34,"type":"quantitative","scale":{"domain":[-6.223,8.063],"nice":false,"zero":false},"axis":{"values":[-5,0,5],"domain":false,"ticks":false,"tickSize":0,"grid":false,"labelPadding":9,"labelFontSize":17,"labelFont":"Liberation Sans","labelColor":"#000","labelExpr":"''+datum.value","title":null}}}}
]},
{"width":288,"height":160,"data":{"values":[{}]},"mark":{"type":"point","opacity":0,"size":0}},
{"width":318,"height":137,"data":{"name":"erp"},"layer":[
 {"data":{"values":[{}]},"mark":{"type":"rule","color":"#111","strokeWidth":1.3},"encoding":{"x":{"datum":0,"type":"quantitative","scale":{"domain":[-44.1,1060.1],"nice":false,"zero":false},"axis":null},"x2":{"datum":998},"y":{"datum":0,"type":"quantitative","scale":{"domain":[-4.313,7.92],"nice":false,"zero":false},"axis":null}}},
 {"transform":[{"filter":"datum.p==='P3'"},{"fold":["g","n","b"],"as":["c","v"]}],"mark":{"type":"line","strokeWidth":2},"encoding":{"x":{"field":"t","type":"quantitative","scale":{"domain":[-44.1,1060.1],"nice":false,"zero":false},"axis":null},"y":{"field":"v","type":"quantitative","scale":{"domain":[-4.313,7.92],"nice":false,"zero":false},"axis":null},"color":{"field":"c","type":"nominal","scale":{"domain":["n","b","g"],"range":["#ee0000","#0000ee","#11dd11"]},"legend":null}}},
 {"data":{"values":[{}]},"mark":{"type":"text","text":"P3","align":"left","baseline":"alphabetic","fontSize":18,"font":"Liberation Sans","color":"#000"},"encoding":{"x":{"datum":-4.2,"type":"quantitative","scale":{"domain":[-44.1,1060.1],"nice":false,"zero":false},"axis":null},"y":{"datum":6.25,"type":"quantitative","scale":{"domain":[-4.313,7.92],"nice":false,"zero":false},"axis":null}}}
]},
{"width":316,"height":137,"data":{"name":"erp"},"layer":[
 {"data":{"values":[{}]},"mark":{"type":"rule","color":"#111","strokeWidth":1.3},"encoding":{"x":{"datum":-8,"type":"quantitative","scale":{"domain":[-6.9,1090.3],"nice":false,"zero":false},"axis":null},"x2":{"datum":990},"y":{"datum":0,"type":"quantitative","scale":{"domain":[-3.955,8.277],"nice":false,"zero":false},"axis":null}}},
 {"transform":[{"filter":"datum.p==='PZ'"},{"fold":["g","n","b"],"as":["c","v"]}],"mark":{"type":"line","strokeWidth":2},"encoding":{"x":{"field":"t","type":"quantitative","scale":{"domain":[-6.9,1090.3],"nice":false,"zero":false},"axis":null},"y":{"field":"v","type":"quantitative","scale":{"domain":[-3.955,8.277],"nice":false,"zero":false},"axis":null},"color":{"field":"c","type":"nominal","scale":{"domain":["n","b","g"],"range":["#ee0000","#0000ee","#11dd11"]},"legend":null}}},
 {"data":{"values":[{}]},"mark":{"type":"text","text":"PZ","align":"left","baseline":"alphabetic","fontSize":18,"font":"Liberation Sans","color":"#000"},"encoding":{"x":{"datum":-22.6,"type":"quantitative","scale":{"domain":[-6.9,1090.3],"nice":false,"zero":false},"axis":null},"y":{"datum":6.61,"type":"quantitative","scale":{"domain":[-3.955,8.277],"nice":false,"zero":false},"axis":null}}}
]},
{"width":288,"height":137,"data":{"name":"erp"},"layer":[
 {"data":{"values":[{}]},"mark":{"type":"rule","color":"#111","strokeWidth":1.3},"encoding":{"x":{"datum":0,"type":"quantitative","scale":{"domain":[-3.5,996.5],"nice":false,"zero":false},"axis":null},"x2":{"datum":990},"y":{"datum":0,"type":"quantitative","scale":{"domain":[-4.08,8.152],"nice":false,"zero":false},"axis":null}}},
 {"transform":[{"filter":"datum.p==='P4'"},{"fold":["g","n","b"],"as":["c","v"]}],"mark":{"type":"line","strokeWidth":2},"encoding":{"x":{"field":"t","type":"quantitative","scale":{"domain":[-3.5,996.5],"nice":false,"zero":false},"axis":null},"y":{"field":"v","type":"quantitative","scale":{"domain":[-4.08,8.152],"nice":false,"zero":false},"axis":null},"color":{"field":"c","type":"nominal","scale":{"domain":["n","b","g"],"range":["#ee0000","#0000ee","#11dd11"]},"legend":null}}},
 {"data":{"values":[{}]},"mark":{"type":"text","text":"P4","align":"left","baseline":"alphabetic","fontSize":18,"font":"Liberation Sans","color":"#000"},"encoding":{"x":{"datum":1.7,"type":"quantitative","scale":{"domain":[-3.5,996.5],"nice":false,"zero":false},"axis":null},"y":{"datum":6.48,"type":"quantitative","scale":{"domain":[-4.08,8.152],"nice":false,"zero":false},"axis":null}}}
]},
{"width":318,"height":108,"data":{"values":[{}]},"mark":{"type":"point","opacity":0,"size":0}},
{"width":316,"height":108,"data":{"name":"erp"},"layer":[
 {"data":{"values":[{}]},"mark":{"type":"rule","color":"#111","strokeWidth":1.3},"encoding":{"x":{"datum":0,"type":"quantitative","scale":{"domain":[-6.9,1090.3],"nice":false,"zero":false},"axis":null},"x2":{"datum":1018},"y":{"datum":0,"type":"quantitative","scale":{"domain":[-2.5,7.143],"nice":false,"zero":false},"axis":null}}},
 {"transform":[{"filter":"datum.p==='OZ'"},{"fold":["g","n","b"],"as":["c","v"]}],"mark":{"type":"line","strokeWidth":2},"encoding":{"x":{"field":"t","type":"quantitative","scale":{"domain":[-6.9,1090.3],"nice":false,"zero":false},"axis":null},"y":{"field":"v","type":"quantitative","scale":{"domain":[-2.5,7.143],"nice":false,"zero":false},"axis":null},"color":{"field":"c","type":"nominal","scale":{"domain":["n","b","g"],"range":["#ee0000","#0000ee","#11dd11"]},"legend":null}}},
 {"data":{"values":[{}]},"mark":{"type":"text","text":"OZ","align":"left","baseline":"alphabetic","fontSize":18,"font":"Liberation Sans","color":"#000"},"encoding":{"x":{"datum":-20.8,"type":"quantitative","scale":{"domain":[-6.9,1090.3],"nice":false,"zero":false},"axis":null},"y":{"datum":5.51,"type":"quantitative","scale":{"domain":[-2.5,7.143],"nice":false,"zero":false},"axis":null}}}
]},
{"width":288,"height":108,"data":{"values":[{}]},"mark":{"type":"point","opacity":0,"size":0}}
]
}
